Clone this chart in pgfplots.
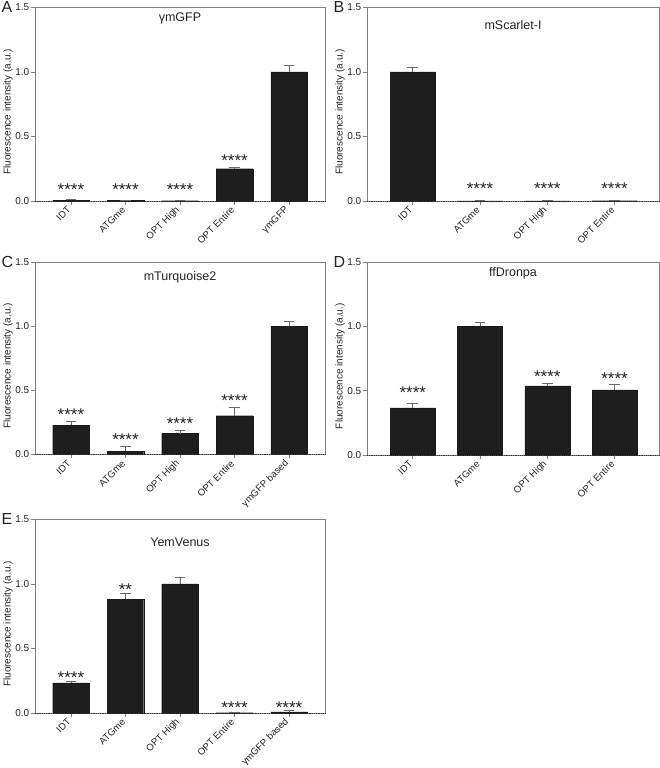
\documentclass[border=0pt]{standalone}
\usepackage{pgfplots}
\pgfplotsset{compat=1.18}
\usepackage{fontspec}
\setmainfont{Liberation Sans}
\definecolor{framegray}{RGB}{128,128,128}
\definecolor{barfill}{RGB}{30,30,30}
\definecolor{txt}{RGB}{35,35,35}
\definecolor{errc}{RGB}{105,105,105}
\pgfplotsset{
  panel/.style={
    scale only axis, ymin=0, ymax=1.5, ytick={0,0.5,1,1.5}, clip=false,
    /pgf/number format/assume math mode=true,
    yticklabel={\pgfmathprintnumber[fixed,fixed zerofill,precision=1]{\tick}},
    yticklabel style={font=\fontsize{10}{12}\selectfont, text=txt, inner sep=1.5pt},
    xticklabel style={xshift=-1.5pt, yshift=-3pt, rotate=45, anchor=east, font=\fontsize{9.6}{11}\selectfont, text=txt, inner sep=0.5pt},
    axis line style={framegray, line width=0.6pt},
    tick style={framegray, line width=0.6pt},
    tick align=outside, major tick length=4pt,
    xtick pos=bottom, ytick pos=left,
    ylabel={Fluorescence intensity (a.u.)},
    every axis y label/.style={at={(axis description cs:0,0.46)}, xshift=-27pt, rotate=90, anchor=center, font=\fontsize{10}{12}\selectfont, text=txt},
    every axis title/.style={at={(axis description cs:0.5,1)}, anchor=center, font=\fontsize{12.5}{14}\selectfont, text=txt},
  },
  bars/.style={ybar, bar width=0.67, fill=barfill, draw=black!90, line width=0.4pt,
    error bars/.cd, y dir=plus, y explicit,
    error bar style={color=errc, line width=0.6pt},
    error mark options={rotate=90, mark size=5.3pt, line width=0.6pt, color=errc}},
  stars/.style={draw=none, mark=none, nodes near coords, point meta=explicit symbolic,
    nodes near coords style={anchor=center, yshift=-3.7pt, font=\fontsize{17}{18}\selectfont, text=txt, inner sep=0pt}},
}
\newcommand{\zeroline}{\draw[densely dotted, black!80, line width=0.8pt] (axis description cs:0,0) -- (axis description cs:1,0);}
\newcommand{\panelletter}[1]{\node[anchor=north west, inner sep=0pt, font=\fontsize{16}{18}\selectfont, text=txt, xshift=-33.5pt, yshift=6pt] at (axis description cs:0,1) {#1};}
\begin{document}
\begin{tikzpicture}
\useasboundingbox (0,0) rectangle (660pt,768pt);
% A
\begin{axis}[panel, at={(35pt,567pt)}, anchor=south west, width=290pt, height=193.5pt,
  xmin=-0.66, xmax=4.66, xtick={0,1,2,3,4},
  xticklabels={IDT, ATGme, OPT High, OPT Entire, γmGFP},
  title={γmGFP}, title style={yshift=-10.5pt}]
\addplot[bars] table[x=x, y=y, y error=e] {
x y e
0 0.005 0.010
1 0.003 0.003
2 0.002 0.002
3 0.250 0.010
4 1.000 0.048
};
\addplot[stars] table[x=x, y=y, meta=s] {
x y s
0 0.12 ****
1 0.12 ****
2 0.12 ****
3 0.34 ****
};
\zeroline
\panelletter{A}
\end{axis}
% B
\begin{axis}[panel, at={(367pt,567pt)}, anchor=south west, width=292pt, height=193.5pt,
  xmin=-0.68, xmax=3.66, xtick={0,1,2,3},
  xticklabels={IDT, ATGme, OPT High, OPT Entire},
  title={mScarlet-I}, title style={yshift=-17.5pt}]
\addplot[bars] table[x=x, y=y, y error=e] {
x y e
0 1.000 0.040
1 0.001 0.001
2 0.001 0.001
3 0.002 0.002
};
\addplot[stars] table[x=x, y=y, meta=s] {
x y s
1 0.124 ****
2 0.124 ****
3 0.124 ****
};
\zeroline
\panelletter{B}
\end{axis}
% C
\begin{axis}[panel, at={(35pt,313.5pt)}, anchor=south west, width=290pt, height=192.5pt,
  xmin=-0.66, xmax=4.66, xtick={0,1,2,3,4},
  xticklabels={IDT, ATGme, OPT High, OPT Entire, γmGFP based},
  title={mTurquoise2}, title style={yshift=-15pt}]
\addplot[bars] table[x=x, y=y, y error=e] {
x y e
0 0.228 0.032
1 0.025 0.037
2 0.163 0.022
3 0.302 0.065
4 1.000 0.034
};
\addplot[stars] table[x=x, y=y, meta=s] {
x y s
0 0.337 ****
1 0.143 ****
2 0.273 ****
3 0.450 ****
};
\zeroline
\panelletter{C}
\end{axis}
% D
\begin{axis}[panel, at={(367pt,313pt)}, anchor=south west, width=292pt, height=193pt,
  xmin=-0.68, xmax=3.66, xtick={0,1,2,3},
  xticklabels={IDT, ATGme, OPT High, OPT Entire},
  title={ffDronpa}, title style={yshift=-11pt}]
\addplot[bars] table[x=x, y=y, y error=e] {
x y e
0 0.367 0.033
1 1.000 0.028
2 0.537 0.021
3 0.506 0.042
};
\addplot[stars] table[x=x, y=y, meta=s] {
x y s
0 0.510 ****
2 0.638 ****
3 0.620 ****
};
\zeroline
\panelletter{D}
\end{axis}
% E
\begin{axis}[panel, at={(35pt,55pt)}, anchor=south west, width=290pt, height=193.5pt,
  xmin=-0.66, xmax=4.66, xtick={0,1,2,3,4},
  xticklabels={IDT, ATGme, OPT High, OPT Entire, γmGFP based},
  title={YemVenus}, title style={yshift=-22.5pt}]
\addplot[bars] table[x=x, y=y, y error=e] {
x y e
0 0.233 0.011
1 0.883 0.042
2 1.000 0.049
3 0.002 0.003
4 0.008 0.010
};
\addplot[stars] table[x=x, y=y, meta=s] {
x y s
0 0.306 ****
1 0.984 **
3 0.073 ****
4 0.073 ****
};
\zeroline
\panelletter{E}
\end{axis}
\end{tikzpicture}
\end{document}
